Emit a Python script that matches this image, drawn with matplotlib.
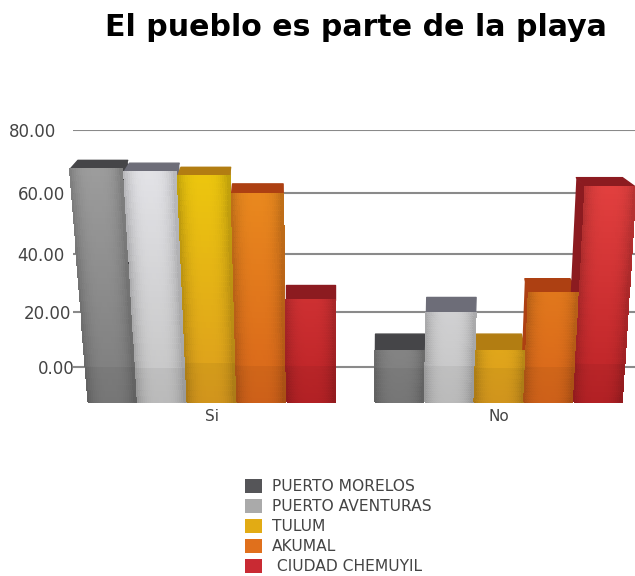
from matplotlib import pyplot as plt
from matplotlib.patches import Patch, Polygon
from matplotlib.colors import to_rgb
import numpy as np

# Values
categories = ['Si', 'No']
series = ['PUERTO MORELOS', 'PUERTO AVENTURAS', 'TULUM', 'AKUMAL', ' CIUDAD CHEMUYIL']
si_values = [70.5, 69.6, 68.3, 63.0, 29.3]
no_values = [12.0, 25.0, 12.0, 31.5, 65.0]
y_ticks = [0, 20, 40, 60, 80]
y_tick_labels = ['0.00', '20.00', '40.00', '60.00', '80.00']

# Styles
top_colors = ['#9c9c9c', '#e2e2e6', '#ecc60e', '#ea8a1e', '#e2403f']
low_colors = ['#7c7c7c', '#c4c4c4', '#dc9c1e', '#d8651a', '#bb2226']
cap_colors = ['#454548', '#6d6d78', '#b27d12', '#ad4012', '#8c1b20']
legend_colors = ['#555558', '#aaaaaa', '#e2ab14', '#e0701c', '#c92a33']
tick_pads = [-1.4, 1.4, 5.8, 5.8, 12.2]

FLOOR = -13.2
BAR_PX = 49.7
LEFT_PX = 73
START_PX = 88
NO_START_PX = 375


# the chart has a false perspective, grid spacing grows with height
def forward(v):
    v = np.asarray(v, dtype=float)
    return 2.7 * v + 0.0033 * v ** 2


def inverse(p):
    p = np.asarray(p, dtype=float)
    return (-2.7 + np.sqrt(np.maximum(2.7 ** 2 + 4 * 0.0033 * p, 0))) / (2 * 0.0033)


def to_px(x):
    return x * BAR_PX + START_PX


def to_x(px):
    return (px - START_PX) / BAR_PX


def lean(px):
    # how far a bar edge moves sideways per pixel of height
    if px < 315:
        return 0.00034 * (px - 315)
    if px > 340:
        return 0.00023 * (px - 340)
    return 0.0


def edge_at(x, h):
    px = to_px(x)
    return to_x(px + lean(px) * h)


def back_of(x):
    px = to_px(x)
    if px < 260:
        return to_x(px + (260 - px) * 0.045)
    if px > 480:
        return to_x(px + (480 - px) * 0.09)
    return x


def draw_back(ax, x0, value, j):
    base = forward(FLOOR)
    h_back = forward(value) - base
    h_front = h_back - (20 - 0.046 * h_back)
    v_front = inverse(h_front + base)

    lf, rf = edge_at(x0, h_front), edge_at(x0 + 0.97, h_front)
    lb, rb = edge_at(x0, h_back), edge_at(x0 + 0.97, h_back)
    top = [(lf, v_front), (rf, v_front), (back_of(rb), value), (back_of(lb), value)]
    ax.add_patch(Polygon(top, facecolor=cap_colors[j], edgecolor=cap_colors[j], lw=1,
                         joinstyle='round', zorder=3, clip_on=False))

    # side face, only the one turned to the middle of the chart shows
    side_x = x0 + 0.97 if to_px(x0) < 330 else x0
    side = [(edge_at(side_x, h_front), v_front), (back_of(edge_at(side_x, h_back)), value),
            (back_of(side_x), FLOOR), (side_x, FLOOR)]
    ax.add_patch(Polygon(side, facecolor=cap_colors[j], edgecolor='none', zorder=3, clip_on=False))


def draw_front(ax, x0, value, j):
    base = forward(FLOOR)
    h_back = forward(value) - base
    h_front = h_back - (20 - 0.046 * h_back)

    hs = np.linspace(0, h_front, 40)
    vs = inverse(hs + base)
    us = np.linspace(0, 1, 25)
    X = np.zeros((hs.size, us.size))
    Y = np.zeros((hs.size, us.size))
    for i, h in enumerate(hs):
        left, right = edge_at(x0, h), edge_at(x0 + 0.97, h)
        X[i] = left + us * (right - left)
        Y[i] = vs[i]

    top, low = np.array(to_rgb(top_colors[j])), np.array(to_rgb(low_colors[j]))
    C = np.zeros((hs.size - 1, us.size - 1, 3))
    for i in range(hs.size - 1):
        frac = (hs[i] + hs[i + 1]) / 2 / max(h_front, 1)
        # short bars stay near the low colour
        frac = frac * min(1.0, h_front / 220)
        colour = low + (top - low) * frac
        for k in range(us.size - 1):
            u = (us[k] + us[k + 1]) / 2
            C[i, k] = colour * (1 - 0.2 * abs(2 * u - 1) ** 3)
        if vs[i] < 0:
            C[i] *= 0.95
    ax.pcolormesh(X, Y, np.clip(C, 0, 1), shading='flat', zorder=4, clip_on=False,
                  edgecolors='face', linewidth=0.2)


fig = plt.figure(figsize=(6.35, 5.76), dpi=100)
ax = fig.add_axes([LEFT_PX / 635, 1 - 402 / 576, 1 - LEFT_PX / 635, 272 / 576])
ax.set_yscale('function', functions=(forward, inverse))
ax.set_ylim(FLOOR, 80)
ax.set_xlim(to_x(LEFT_PX), to_x(635))

ax.set_yticks(y_ticks)
ax.set_yticklabels(y_tick_labels, fontsize=12, color='#444444')
ax.minorticks_off()
ax.grid(axis='y', color='#8a8a8a', lw=1.5, zorder=1)
ax.set_axisbelow(True)
ax.tick_params(axis='y', length=0)
for tick, pad in zip(ax.yaxis.get_major_ticks(), tick_pads):
    tick.set_pad(pad)

no_start = to_x(NO_START_PX)
ax.set_xticks([2.5, no_start + 2.5])
ax.set_xticklabels(categories, fontsize=11, color='#444444')
ax.tick_params(axis='x', length=0, pad=5)
for s in ax.spines.values():
    s.set_visible(False)

for j in range(len(series)):
    draw_back(ax, j, si_values[j], j)
    draw_back(ax, no_start + j, no_values[j], j)
for j in range(len(series)):
    draw_front(ax, j, si_values[j], j)
    draw_front(ax, no_start + j, no_values[j], j)

fig.text(356 / 635, 1 - 27 / 576, 'El pueblo es parte de la playa', ha='center', va='center',
         fontsize=21.6, fontweight='bold', color='black')

handles = [Patch(facecolor=c, label=s) for c, s in zip(legend_colors, series)]
fig.legend(handles=handles, loc='upper left', bbox_to_anchor=(245 / 635, 1 - 479 / 576),
           frameon=False, fontsize=11.2, labelcolor='#444444', handlelength=1.09, handleheight=0.96,
           handletextpad=0.64, labelspacing=0.32, borderpad=0, borderaxespad=0)

fig.savefig('out.png', dpi=100)
